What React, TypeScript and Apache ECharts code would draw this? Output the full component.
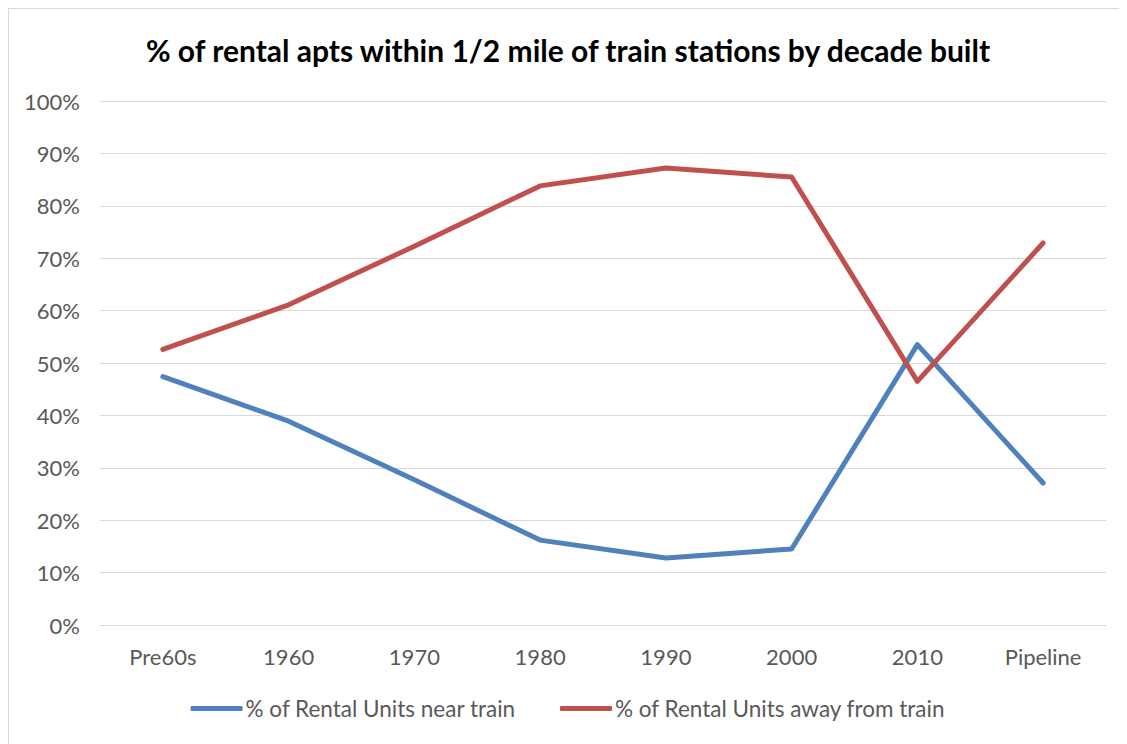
import React, { useEffect, useRef } from "react";
import * as echarts from "echarts";

const categories = ["Pre60s", "1960", "1970", "1980", "1990", "2000", "2010", "Pipeline"];
const nearTrain = [47.4, 38.9, 27.7, 16.2, 12.8, 14.5, 53.5, 27.1];
const awayFromTrain = [52.6, 61.1, 72.3, 83.8, 87.2, 85.5, 46.5, 72.9];
const yTicks = [0, 10, 20, 30, 40, 50, 60, 70, 80, 90, 100];

const FONT = "Lato, 'Open Sans', sans-serif";

export default function App() {
  const ref = useRef<HTMLDivElement>(null);
  useEffect(() => {
    if (!ref.current) return;
    const chart = echarts.init(ref.current, undefined, { renderer: "svg" });
    chart.setOption({
      animation: false,
      backgroundColor: "#ffffff",
      title: {
        text: "% of rental apts within 1/2 mile of train stations by decade built",
        left: "center",
        top: 21,
        textStyle: { fontFamily: FONT, fontWeight: "bold", fontSize: 30, color: "#000000" },
      },
      grid: { left: 91, right: 21, top: 92, bottom: 119, containLabel: false },
      legend: {
        top: 683,
        left: "center",
        itemWidth: 52,
        itemHeight: 5,
        itemGap: 44,
        icon: "roundRect",
        textStyle: { fontFamily: FONT, fontSize: 22.5, color: "#595959", padding: [0, 0, 0, -2] },
        data: ["% of Rental Units near train", "% of Rental Units away from train"],
      },
      xAxis: {
        type: "category",
        data: categories,
        boundaryGap: true,
        axisLine: { show: true, lineStyle: { color: "#d9d9d9", width: 1 } },
        axisTick: { show: false },
        axisLabel: { fontFamily: FONT, fontSize: 22, color: "#595959", margin: 20 },
      },
      yAxis: {
        type: "value",
        min: yTicks[0],
        max: yTicks[yTicks.length - 1],
        interval: 10,
        axisLine: { show: false },
        axisTick: { show: false },
        splitLine: { lineStyle: { color: "#d9d9d9", width: 1 } },
        axisLabel: { fontFamily: FONT, fontSize: 22, color: "#595959", margin: 20, formatter: "{value}%" },
      },
      series: [
        {
          name: "% of Rental Units near train",
          type: "line",
          data: nearTrain,
          showSymbol: false,
          symbol: "none",
          lineStyle: { color: "#4F81BD", width: 5, cap: "round", join: "round" },
          itemStyle: { color: "#4F81BD" },
        },
        {
          name: "% of Rental Units away from train",
          type: "line",
          data: awayFromTrain,
          showSymbol: false,
          symbol: "none",
          lineStyle: { color: "#C0504D", width: 5, cap: "round", join: "round" },
          itemStyle: { color: "#C0504D" },
        },
      ],
    });
    return () => chart.dispose();
  }, []);
  return (
    <div
      style={{
        width: 1118,
        height: 735,
        borderTop: "1px solid #d9d9d9",
        borderLeft: "1px solid #d9d9d9",
        background: "#ffffff",
      }}
    >
      <div ref={ref} style={{ width: 1118, height: 735 }} />
    </div>
  );
}
